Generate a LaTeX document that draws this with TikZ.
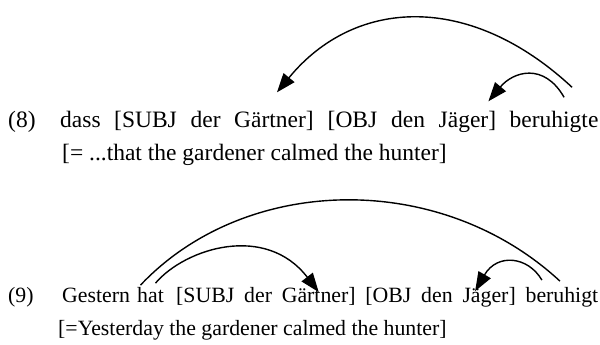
\documentclass[tikz,border=0pt]{standalone}
\usepackage{fontspec}
\setmainfont{Liberation Serif}
\usetikzlibrary{arrows.meta}

\tikzset{
  word/.style={inner sep=0pt, anchor=base west, text height=0.7em, text depth=0.22em},
  big/.style={font=\fontsize{23.5pt}{28pt}\selectfont},
  small/.style={font=\fontsize{21.8pt}{26pt}\selectfont},
  link/.style={line width=1.4pt},
  dep/.style={link, -{Triangle[length=19pt,width=14pt]}}
}

\begin{document}
\begin{tikzpicture}[x=1pt,y=1pt]
\useasboundingbox[fill=white] (0,0) rectangle (600,345);

% example (8)
\begin{scope}[every node/.style={word,big}]
\node (n8)    at (8,217.5)     {(8)};
\node (dass8) at (60,217.5)    {dass};
\node (subj8) at (114,217.5)   {[SUBJ};
\node (der8)  at (190.5,217.5) {der};
\node (gart8) at (234,217.5)   {Gärtner]};
\node (obj8)  at (327.5,217.5) {[OBJ};
\node (den8)  at (391,217.5)   {den};
\node (jag8)  at (438.5,217.5) {Jäger]};
\node (verb8) at (509.5,217.5) {beruhigte};
\node (gloss8) at (62,184.5)   {[= ...that the gardener calmed the hunter]};
\end{scope}

\draw[dep] ([xshift=18pt,yshift=33pt]verb8.north)
  .. controls +(-102,95) and +(78,95) .. ([xshift=3pt,yshift=28pt]gart8.north);
\draw[dep] ([xshift=10pt,yshift=23pt]verb8.north)
  .. controls +(-20,35) and +(25,30) .. ([xshift=21pt,yshift=19pt]jag8.north);

% example (9)
\begin{scope}[every node/.style={word,small}]
\node (n9)    at (8,42)     {(9)};
\node (gest9) at (62,42)    {Gestern};
\node (hat9)  at (137,42)   {hat};
\node (subj9) at (176,42)   {[SUBJ};
\node (der9)  at (244,42)   {der};
\node (gart9) at (281.6,42) {Gärtner]};
\node (obj9)  at (365.2,42) {[OBJ};
\node (den9)  at (421,42)   {den};
\node (jag9)  at (462.3,42) {Jäger]};
\node (verb9) at (525.4,42) {beruhigt};
\node (gloss9) at (58,9)    {[=Yesterday the gardener calmed the hunter]};
\end{scope}

\draw[link] ([xshift=-10pt,yshift=10.7pt]hat9.north)
  .. controls +(105,111) and +(-120,111) .. ([xshift=-2pt,yshift=14.7pt]verb9.north);
\draw[dep] ([xshift=5pt,yshift=12.7pt]hat9.north)
  .. controls +(30,35) and +(-53,69) .. ([yshift=3.7pt]gart9.north);
\draw[dep] ([xshift=-20pt,yshift=15.7pt]verb9.north)
  .. controls +(-14,24) and +(22,38) .. ([xshift=-14pt,yshift=4.7pt]jag9.north);
\end{tikzpicture}
\end{document}
